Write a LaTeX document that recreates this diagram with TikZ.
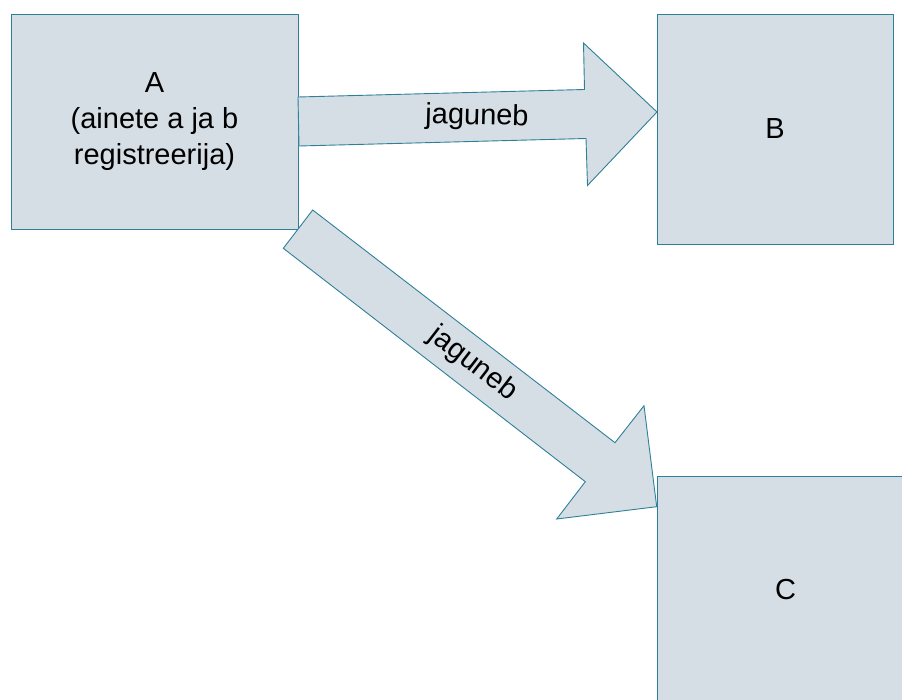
\documentclass[tikz,border=0pt]{standalone}
\usepackage{fontspec}
\setmainfont{Liberation Sans}
\definecolor{boxfill}{RGB}{214,222,229}
\definecolor{boxline}{RGB}{45,128,152}
\begin{document}
\begin{tikzpicture}[x=1pt,y=-1pt,
  box/.style={draw=boxline, fill=boxfill, line width=0.9pt, inner sep=0pt, outer sep=0pt},
  blockarrow/.style={draw=boxline, fill=boxfill, line width=0.9pt, line join=miter},
  lbl/.style={font=\fontsize{29}{36}\selectfont, align=center, inner sep=0pt}]
\useasboundingbox (0,0) rectangle (902,700);
% boxes
\node[box, minimum width=287pt, minimum height=215pt] (A) at (154.5,121.5) {};
\node[box, minimum width=236pt, minimum height=230pt] (B) at (775,129) {};
\node[box, minimum width=257pt, minimum height=227pt] (C) at (785.5,589.5) {};
% block arrows
\draw[blockarrow] (298,97) -- (584.5,89.5) -- (583.5,43) -- (657,112) -- (587.5,185.5) -- (586,138.5) -- (299,146) -- cycle;
\draw[blockarrow] (312.7,210) -- (615,442.7) -- (644,405.7) -- (656.7,506.7) -- (556.7,519) -- (585.3,481.7) -- (283.3,248.3) -- cycle;
% labels
\node[lbl] (tA) at (A.center) {A\\(ainete a ja b\\registreerija)};
\node[lbl] (tB) at (B.center) {B};
\node[lbl] (tC) at (C.center) {C};
\node[lbl, rotate=-1.5] (l1) at (477,117) {jaguneb};
\node[lbl, rotate=-37.6] (l2) at (473,364) {jaguneb};
\end{tikzpicture}
\end{document}
